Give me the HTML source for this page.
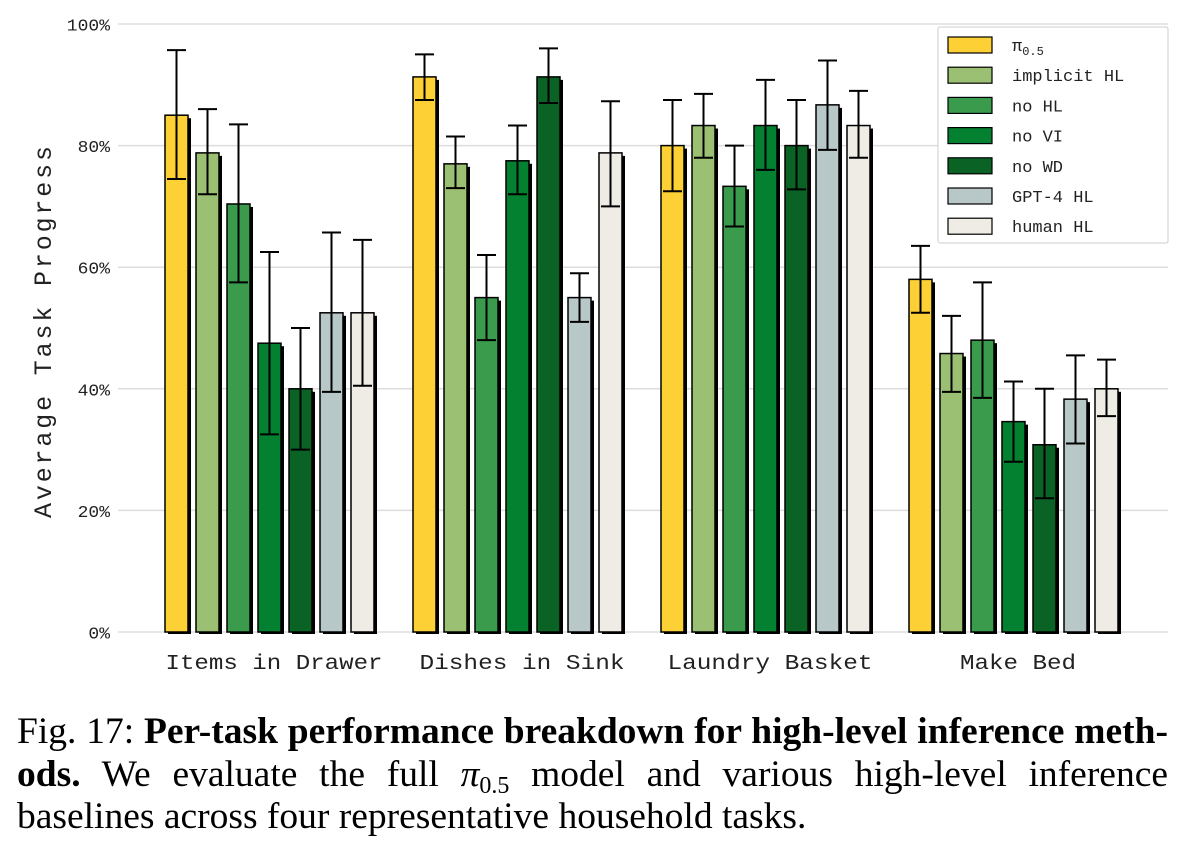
<!DOCTYPE html>
<html><head><meta charset="utf-8"><style>
body{margin:0;background:#fff;width:1186px;height:852px;overflow:hidden}
.cap{position:absolute;left:17px;width:1151px;font-family:"Liberation Serif",serif;font-size:37.5px;line-height:42.5px;top:711px;color:#000}
.ln{display:block;text-align:justify;text-align-last:justify;white-space:nowrap;height:42.5px}
.ln.last{text-align-last:left}
sub{font-size:24px;line-height:0;vertical-align:-7px}
</style></head><body>
<svg id="chart" width="1186" height="700" style="position:absolute;left:0;top:0" font-family="Liberation Mono, monospace"></svg>
<div class="cap">
<span class="ln">Fig. 17: <b>Per-task performance breakdown for high-level inference meth-</b></span>
<span class="ln"><b>ods.</b> We evaluate the full <i>π</i><sub>0.5</sub> model and various high-level inference</span>
<span class="ln last">baselines across four representative household tasks.</span>
</div>
<script>
const categories=["Items in Drawer","Dishes in Sink","Laundry Basket","Make Bed"];
const seriesNames=["π0.5","implicit HL","no HL","no VI","no WD","GPT-4 HL","human HL"];
const colors=["#FDD036","#9BC073","#3A9B4D","#038131","#0A6324","#B8C8C8","#EEECE4"];
const values=[[85,78.8,70.4,47.5,40,52.5,52.5],[91.3,77,55,77.5,91.3,55,78.8],[80,83.3,73.3,83.3,80,86.7,83.3],[58,45.8,48,34.6,30.8,38.3,40]];
const errLow=[[74.5,72,57.5,32.5,30,39.5,40.5],[87.5,73,48,72,87,51,70],[72.5,78,66.7,76,72.8,79.3,78],[52.5,39.5,38.5,28,22,31,35.5]];
const errHigh=[[95.7,86,83.5,62.5,50,65.7,64.5],[95,81.5,62,83.3,96,59,87.3],[87.5,88.5,80,90.8,87.5,94,89],[63.5,52,57.5,41.2,40,45.5,44.8]];
const yTicks=[0,20,40,60,80,100];
const NS="http://www.w3.org/2000/svg";
const svg=document.getElementById('chart');
const y=v=>632-v*6.08;
const gx=g=>165+g*248, bx=(g,i)=>gx(g)+i*31, BW=23;
function mk(t,a,p){const e=document.createElementNS(NS,t);for(const k in a)e.setAttribute(k,a[k]);(p||svg).appendChild(e);return e;}
yTicks.forEach(t=>{
 const l=mk('line',{x1:118,x2:1168,y1:y(t),y2:y(t),stroke:'#ddd','stroke-width':1.5});
 
 
 const lab=t+'%';
 const tx=mk('text',{x:110,y:y(t)+6.5,'text-anchor':'end','font-size':17,fill:'#222',textLength:lab.length*10.8,lengthAdjust:'spacingAndGlyphs'});tx.textContent=lab;
 
 
});
const yt=mk('text',{x:0,y:0,transform:'translate(51,332) rotate(-90)','text-anchor':'middle','font-size':25,fill:'#222',textLength:372,lengthAdjust:'spacing'});
yt.textContent='Average Task Progress';


const catW=[217,205,205,116];
categories.forEach((c,g)=>{
 values[g].forEach((v,i)=>{
  const x=bx(g,i);
  const sh=mk('rect',{x:x+3,y:y(v)+3,width:BW,height:632-y(v)-1,fill:'#000'});
  
  
  const r=mk('rect',{x:x,y:y(v),width:BW,height:632-y(v),fill:colors[i],stroke:'#000','stroke-width':1.5});
  
  
  const cx=x+BW/2;
  const e=mk('path',{d:`M${cx},${y(errLow[g][i])}V${y(errHigh[g][i])}M${cx-9.5},${y(errHigh[g][i])}h19M${cx-9.5},${y(errLow[g][i])}h19`,stroke:'#000','stroke-width':2,fill:'none'});
  
  
 });
 const t=mk('text',{x:gx(g)+109,y:669,'text-anchor':'middle','font-size':21,fill:'#222',textLength:catW[g],lengthAdjust:'spacingAndGlyphs'});t.textContent=c;
 
 
});
const lg=mk('g',{});


mk('rect',{x:938,y:27,width:230,height:216,fill:'#fff',stroke:'#ccc','stroke-width':1,rx:2},lg);
seriesNames.forEach((n,i)=>{
 const yy=45+i*30.2;
 const s=mk('rect',{x:948,y:yy-8,width:44,height:16,fill:colors[i],stroke:'#000','stroke-width':1.2},lg);
 
 
 const t=mk('text',{x:1012,y:yy+6,'font-size':17,fill:'#222'},lg);
 if(i===0){t.textContent='π';const ts=mk('tspan',{'font-size':12,dy:4},t);ts.textContent='0.5';}
 else t.textContent=n;
 
 
});
</script>
</body></html>
